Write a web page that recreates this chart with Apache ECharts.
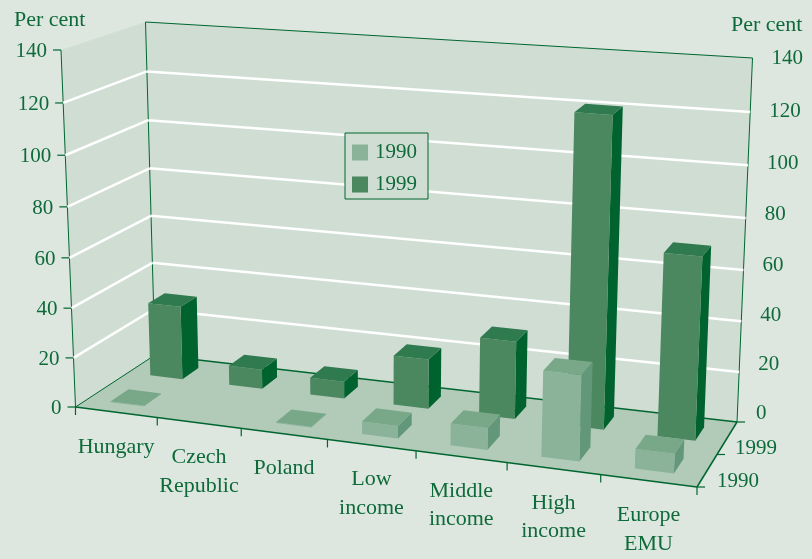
<!DOCTYPE html>
<html><head><meta charset="utf-8">
<style>html,body{margin:0;padding:0;background:#dde7df}#c{width:812px;height:559px}</style>
<script src="https://cdn.jsdelivr.net/npm/echarts@6/dist/echarts.min.js"></script>
</head><body><div id="c"></div>
<script>
const categories = ['Hungary','Czech\nRepublic','Poland','Low\nincome','Middle\nincome','High\nincome','Europe\nEMU'];
const values1990 = [0.3, 0, 0.3, 5, 8.5, 33, 7.5];
const values1999 = [30.5, 8, 7, 20, 31, 121, 71];
const valueTicks = [0,20,40,60,80,100,120,140];
const yearLabels = ['1990','1999'];
const yAxisName = 'Per cent';

const W=812,H=559;
const INK='#0f6a3a', LINE='#00662f', BG='#dde7df', WALL='#cfddd3', FLOOR='#b2cbb9';
const FONT='"Liberation Serif","Times New Roman",serif', FS=22, NS=21;
const C={fl0:[75.5,407],flt:[61,50],fr0:[697,487],frt:[713,97],bl0:[155,355],blt:[145.5,22],br0:[737,422],brt:[752.5,58]};
const warp=(t,a)=>t/(a+(1-a)*t);
const mix=(p,q,t)=>[p[0]+(q[0]-p[0])*t,p[1]+(q[1]-p[1])*t];
function P(u,v,w){
  const U=warp(u,1.10),Z=warp(w,1.045);
  const f0=mix(C.fl0,C.fr0,U),ft=mix(C.flt,C.frt,U),b0=mix(C.bl0,C.br0,U),bt=mix(C.blt,C.brt,U);
  return mix(mix(f0,ft,Z),mix(b0,bt,Z),v);
}
const pg=(pts,fill,z)=>({type:'polygon',shape:{points:pts},style:{fill:fill},z2:z||0});
const ln=(a,b,color,w)=>({type:'line',shape:{x1:a[0],y1:a[1],x2:b[0],y2:b[1]},style:{stroke:color,lineWidth:w,fill:null}});
const tx=(x,y,t,al,size)=>({type:'text',x:x,y:y+1.5,style:{text:t,fill:INK,font:(size||FS)+'px '+FONT,align:al||'center',verticalAlign:'middle'}});

const toU=(api,c)=>api.coord([c,0])[0]/W;
const toW=(api,val)=>1-api.coord([0,val])[1]/H;
const BAND=1/categories.length, BARW=0.41;

function barRender(v0,v1,cols){
  return function(params,api){
    const i=api.value(0),val=api.value(1);
    if(!(val>0)) return null;
    const cu=toU(api,i), u0=cu-BAND*BARW/2-0.001, u1=cu+BAND*BARW/2-0.001, w=toW(api,val);
    const a=P(u0,v0,0),b=P(u1,v0,0),c=P(u1,v1,0);
    const at=P(u0,v0,w),bt=P(u1,v0,w),ct=P(u1,v1,w),dt=P(u0,v1,w);
    return {type:'group',children:[pg([b,c,ct,bt],cols[2]),pg([a,b,bt,at],cols[0]),pg([at,bt,ct,dt],cols[1])]};
  };
}
function wallRender(params,api){
  const t=toW(api,valueTicks[valueTicks.length-1]);
  const kids=[
    pg([P(0,0,0),P(0,0,t),P(0,1,t),P(0,1,0)],WALL),
    pg([P(0,1,0),P(0,1,t),P(1,1,t),P(1,1,0)],WALL),
    pg([P(0,0,0),P(0,1,0),P(1,1,0),P(1,0,0)],FLOOR),
    ln(P(0,1,0),P(0,1,t),LINE,1),ln(P(0,1,t),P(1,1,t),LINE,1),ln(P(1,1,t),P(1,1,0),LINE,1),
    ln(P(0,0,0),P(0,0,t),LINE,1),ln(P(0,0,0),P(0,1,0),LINE,1),ln(P(0,1,0),P(1,1,0),LINE,1.5),
    ln(P(1,1,0),P(1,0,0),LINE,1.5),ln(P(0,0,0),P(1,0,0),LINE,1.5)
  ];
  return {type:'group',children:kids};
}
function tickRender(params,api){
  const val=api.value(1),w=toW(api,val),top=val===valueTicks[valueTicks.length-1];
  const f=P(0,0,w),b=P(0,1,w),r=P(1,1,w),kids=[];
  kids.push(ln([f[0]-8,f[1]],f,LINE,1.2));
  if(val>0&&!top){kids.push(ln(f,b,'#ffffff',2.5),ln(b,r,'#ffffff',2.5));}
  kids.push(tx(f[0]-14,f[1],String(val),'right',NS));
  kids.push(tx(r[0]+19,r[1]-10+9*w,String(val),'left',NS));
  return {type:'group',children:kids};
}
function catRender(params,api){
  const i=api.value(0),cu=toU(api,i),kids=[];
  const p=P(cu,0,0),lines=categories[i].split('\n');
  lines.forEach((s,k)=>kids.push(tx(p[0],p[1]+33+k*28.5,s)));
  const e=P(cu+BAND/2,0,0);
  kids.push(ln(e,[e[0],e[1]+8],LINE,1.2));
  if(i===0){const s=P(0,0,0);kids.push(ln(s,[s[0],s[1]+8],LINE,1.2));}
  return {type:'group',children:kids};
}
function depthRender(){
  const a=P(1,0,0),m=P(1,0.5,0),b=P(1,1,0);
  return {type:'group',children:[
    ln(a,[a[0]+8,a[1]],LINE,1.2),ln(m,[m[0]+8,m[1]],LINE,1.2),ln(b,[b[0]+8,b[1]],LINE,1.2),
    tx(a[0]+62,a[1]-7,yearLabels[0],'right',NS),tx(m[0]+60,m[1]-8,yearLabels[1],'right',NS),
    tx(14,19,yAxisName,'left'),tx(731,24,yAxisName,'left')
  ]};
}
const catData=categories.map((c,i)=>[i,0]);
const common={coordinateSystem:'cartesian2d',silent:true,clip:false,animation:false};
const option={
  animation:false,backgroundColor:BG,
  grid:{left:0,top:0,width:W,height:H,show:false},
  xAxis:{type:'category',data:categories,show:false,boundaryGap:true},
  yAxis:{type:'value',min:0,max:140,interval:20,show:false},
  legend:{data:yearLabels,orient:'vertical',left:345,top:133,padding:[9,11,4,7],itemGap:11,itemWidth:16,itemHeight:16,
    backgroundColor:WALL,borderColor:LINE,borderWidth:1,borderRadius:0,selectedMode:false,icon:'rect',
    textStyle:{color:INK,fontFamily:FONT,fontSize:NS,padding:[0,0,0,2]},z:50},
  series:[
    Object.assign({type:'custom',name:'walls',renderItem:wallRender,data:[[0,0]],z:1},common),
    Object.assign({type:'custom',name:'ticks',renderItem:tickRender,data:valueTicks.map(v=>[0,v]),z:2},common),
    Object.assign({type:'custom',name:'cats',renderItem:catRender,data:catData,z:3},common),
    Object.assign({type:'custom',name:'depth',renderItem:depthRender,data:[[0,0]],z:3},common),
    Object.assign({type:'custom',name:'1999',renderItem:barRender(0.66,0.87,['#4b875f','#2f7a4f','#00622e']),itemStyle:{color:'#4b875f'},data:values1999.map((v,i)=>[i,v]),encode:{x:0,y:1},z:4},common),
    Object.assign({type:'custom',name:'1990',renderItem:barRender(0.15,0.38,['#8ab39a','#78a888','#62977a']),itemStyle:{color:'#8ab39a'},data:values1990.map((v,i)=>[i,v]),encode:{x:0,y:1},z:5},common)
  ]
};
const chart=echarts.init(document.getElementById('c'),null,{width:W,height:H});
chart.setOption(option);
</script></body></html>
